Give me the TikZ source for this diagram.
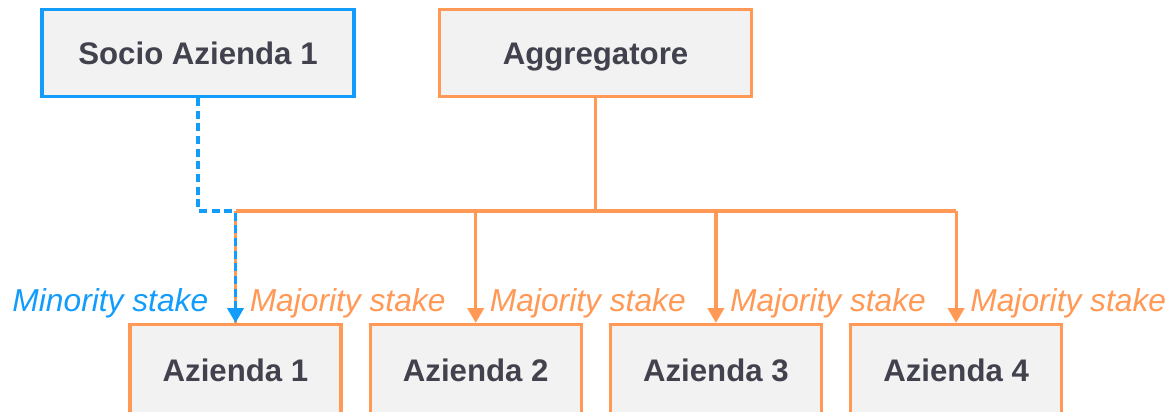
\documentclass[tikz,border=0pt]{standalone}
\usepackage{fontspec}
\setmainfont{Liberation Sans}
\usetikzlibrary{arrows.meta, positioning, calc}
\definecolor{aggorange}{RGB}{255,153,85}
\definecolor{socioblue}{RGB}{18,156,252}
\definecolor{boxgray}{RGB}{242,242,242}
\definecolor{textgray}{RGB}{66,66,78}
\tikzset{%
	company/.style={draw=aggorange, line width=2.4pt, fill=boxgray, rectangle,%
		minimum width=158.25pt, minimum height=65.25pt, inner sep=0pt, text=textgray,%
		font=\fontsize{23.4}{28}\selectfont\bfseries, text height=16.7pt, text depth=0pt},
	owner/.style={company, minimum width=234pt},
	stake/.style={line width=2.4pt, draw=aggorange, -{Triangle[length=11pt,width=12pt]}},
	minority/.style={stake, draw=socioblue, dash pattern=on 6pt off 3.5pt},
	stakelabel/.style={inner sep=0pt, font=\fontsize{23.8}{28}\selectfont\itshape, text=aggorange}
}

\begin{document}
\begin{tikzpicture}[x=0.75pt, y=-0.75pt]
	\useasboundingbox (0,0) rectangle (1174,411);
	%owners
	\node [owner, draw=socioblue] (S) at (198,53) {Socio Azienda 1};
	\node [owner] (A) at (595.5,53) {Aggregatore};
	%companies
	\node [company, minimum height=68.25pt] (C1) at (235.5,370) {Azienda 1};
	\node [company, minimum height=68.25pt, right=19.5pt of C1] (C2) {Azienda 2};
	\node [company, minimum height=68.25pt, right=19.5pt of C2] (C3) {Azienda 3};
	\node [company, minimum height=68.25pt, right=19.5pt of C3] (C4) {Azienda 4};
	\coordinate (F) at (595.5,211);

	%majority links
	\draw [stake, -] (A) -- (F);
	\draw [stake, -] (C1.north |- F) -- (C4.north |- F);
	\draw [stake, -] (C1.north |- F) -- (C1.north);
	\draw [stake] (C2.north |- F) -- (C2.north);
	\draw [stake] (C3.north |- F) -- (C3.north);
	\draw [stake] (C4.north |- F) -- (C4.north);
	%minority link
	\draw [minority] (S) -- (S |- F) -- (C1.north |- F) -- (C1.north);

	%labels
	\node [stakelabel, text=socioblue, anchor=base east] (m1) at ($(C1.north)+(-27,-11)$) {Minority stake};
	\node [stakelabel, anchor=base west] (s1) at ($(C1.north)+(14,-11)$) {Majority stake};
	\node [stakelabel, anchor=base west] (s2) at ($(C2.north)+(14,-11)$) {Majority stake};
	\node [stakelabel, anchor=base west] (s3) at ($(C3.north)+(14,-11)$) {Majority stake};
	\node [stakelabel, anchor=base west] (s4) at ($(C4.north)+(14,-11)$) {Majority stake};
\end{tikzpicture}
\end{document}
